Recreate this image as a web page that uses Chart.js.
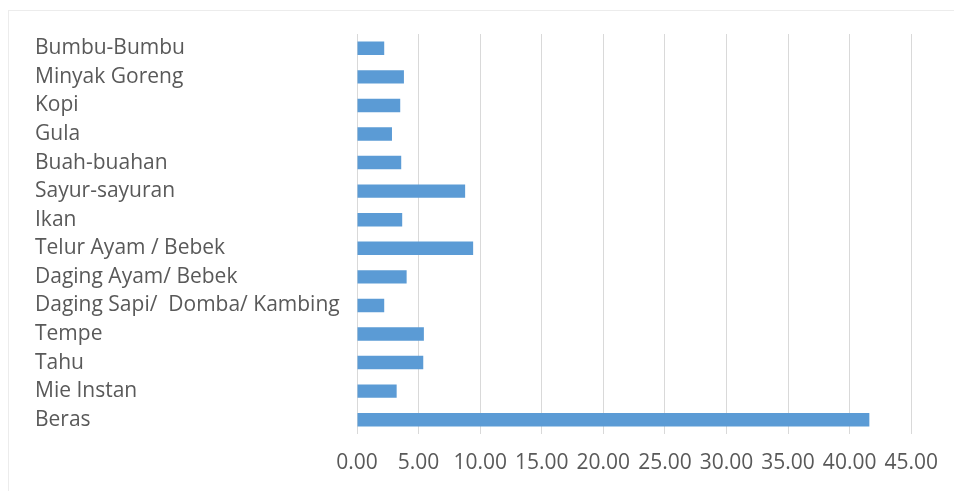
<!DOCTYPE html>
<html>
<head>
<meta charset="utf-8">
<script src="https://cdn.jsdelivr.net/npm/chart.js@4/dist/chart.umd.min.js"></script>
<style>
  html, body { margin: 0; padding: 0; background: #ffffff; }
  #wrap { position: relative; width: 954px; height: 491px; }
  #frame { position: absolute; left: 8px; top: 10px; right: -2px; bottom: -2px; border: 1px solid #ececec; pointer-events: none; }
  canvas { position: absolute; left: 0; top: 0; }
</style>
</head>
<body>
<div id="wrap">
  <div id="frame"></div>
  <canvas id="c" width="954" height="491"></canvas>
</div>
<script>
// Food categories, top to bottom
const categories = [
  "Bumbu-Bumbu",
  "Minyak Goreng",
  "Kopi",
  "Gula",
  "Buah-buahan",
  "Sayur-sayuran",
  "Ikan",
  "Telur Ayam / Bebek",
  "Daging Ayam/ Bebek",
  "Daging Sapi/  Domba/ Kambing",
  "Tempe",
  "Tahu",
  "Mie Instan",
  "Beras"
];

// Share per category
const values = [2.21, 3.81, 3.51, 2.84, 3.59, 8.78, 3.67, 9.43, 4.03, 2.21, 5.43, 5.38, 3.22, 41.6];

// X axis range and step
const xMin = 0;
const xMax = 45;
const xStep = 5;

const textColor = "#595959";
const fontFamily = "'Open Sans', 'Noto Sans', sans-serif";

new Chart(document.getElementById("c"), {
  type: "bar",
  data: {
    labels: categories,
    datasets: [{
      data: values,
      backgroundColor: "#5B9BD5",
      borderWidth: 0,
      categoryPercentage: 1.0,
      barPercentage: 0.47
    }]
  },
  options: {
    indexAxis: "y",
    responsive: false,
    animation: false,
    layout: { padding: { left: 35, top: 34, right: 42, bottom: 0 } },
    plugins: {
      legend: { display: false },
      tooltip: { enabled: false }
    },
    scales: {
      x: {
        min: xMin,
        max: xMax,
        ticks: {
          stepSize: xStep,
          padding: 16,
          color: textColor,
          font: { family: fontFamily, size: 21 },
          callback: (v) => Number(v).toFixed(2)
        },
        grid: { color: "#d9d9d9", lineWidth: 1, drawTicks: false },
        border: { display: false },
        afterFit: (axis) => { axis.height = 57; }
      },
      y: {
        ticks: {
          crossAlign: "far",
          color: textColor,
          font: { family: fontFamily, size: 21 },
          autoSkip: false
        },
        grid: { display: false, drawTicks: false },
        border: { display: false },
        afterFit: (axis) => { axis.width = 322; }
      }
    }
  }
});
</script>
</body>
</html>
